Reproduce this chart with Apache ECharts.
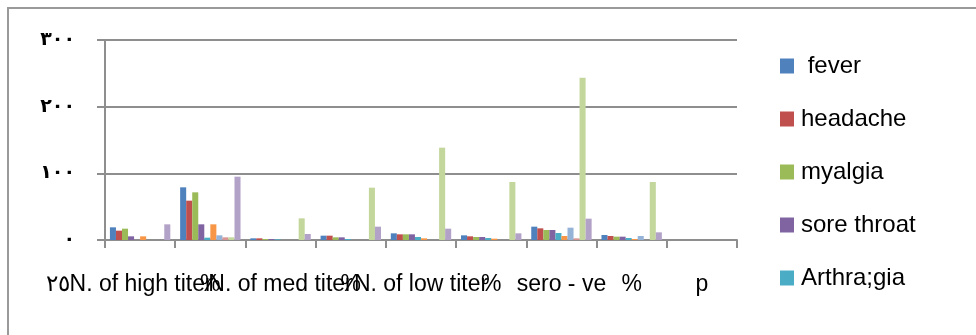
<!DOCTYPE html>
<html>
<head>
<meta charset="utf-8">
<script src="https://cdn.jsdelivr.net/npm/echarts@6/dist/echarts.min.js"></script>
<style>
  html, body { margin: 0; padding: 0; background: #fff; }
  #chart { width: 976px; height: 335px; }
</style>
</head>
<body>
<div id="chart"></div>
<script>
// category labels (they overlap in the original, kept as is)
const categories = ['٢٥N. of high titer', '%', 'N. of med titer', '%', 'N. of low titer', '%', 'sero - ve', '%', 'p'];
const yTicks = [0, 100, 200, 300];
const arabicDigits = ['٠', '١', '٢', '٣', '٤', '٥', '٦', '٧', '٨', '٩'];

// series values
const fever      = [19, 79, 2.5, 6.5, 10, 7, 20, 7.5, 0];
const headache   = [14, 59, 2.5, 6.5, 8.5, 5.5, 17.5, 6, 0];
const myalgia    = [17, 71.5, 1.5, 4, 8.5, 4.5, 15, 5, 0];
const soreThroat = [5.5, 23.5, 1.5, 4, 8.5, 4.5, 15, 5, 0];
const arthralgia = [0, 3.5, 1, 1.5, 4.5, 3, 10.5, 3, 0];
const series6    = [5.5, 23.5, 0, 0, 2.5, 2, 6, 1.5, 0];
const series7    = [0, 7, 0, 0, 0, 0, 18.5, 6, 0];
const series8    = [0, 4, 0, 0, 0, 0, 2.5, 0, 0];
const series9    = [0, 4, 32.5, 78.5, 138.5, 87, 243.5, 87, 0];
const series10   = [23.5, 95, 9, 20, 17, 10, 32, 11.5, 0];

const seriesNames = [' fever', 'headache', 'myalgia', 'sore throat', 'Arthra;gia',
  'Series6', 'Series7', 'Series8', 'Series9', 'Series10'];
const seriesData = [fever, headache, myalgia, soreThroat, arthralgia,
  series6, series7, series8, series9, series10];
// Excel 2007 palette
const colors = ['#4F81BD', '#C0504D', '#9BBB59', '#8064A2', '#4BACC6',
  '#F79646', '#95B3D7', '#D99694', '#C3D69B', '#B3A2C7'];

function toArabic(n) {
  return String(n).split('').map(d => arabicDigits[+d]).join('');
}

const chart = echarts.init(document.getElementById('chart'), null, { renderer: 'canvas' });

const axisGray = '#8e8e8e';

const option = {
  animation: false,
  color: colors,
  grid: { left: 105, right: 239, top: 40, bottom: 95, containLabel: false },
  // chart area border: only top and left edges are inside the picture
  graphic: [{
    type: 'polyline',
    shape: { points: [[8, 400], [8, 8], [1000, 8]] },
    style: { fill: 'none', stroke: '#9a9a9a', lineWidth: 2 },
    silent: true
  }],
  legend: {
    data: seriesNames.slice(0, 5),
    orient: 'vertical',
    left: 780,
    top: 54,
    padding: 0,
    itemWidth: 14,
    itemHeight: 15,
    itemGap: 29,
    icon: 'rect',
    textStyle: { fontFamily: 'Liberation Sans', fontSize: 24, color: '#000', padding: [0, 0, 0, 2] }
  },
  xAxis: {
    type: 'category',
    data: categories,
    boundaryGap: true,
    axisLine: { lineStyle: { color: axisGray, width: 2 } },
    axisTick: { show: true, length: 8, lineStyle: { color: axisGray, width: 2 } },
    axisLabel: {
      interval: 0,
      hideOverlap: false,
      margin: 33,
      fontFamily: 'Liberation Sans',
      fontSize: 23,
      color: '#000',
      formatter: (v, i) => i === 0 ? '{a|' + v + '}' : v,
      rich: { a: { fontFamily: 'Liberation Sans', fontSize: 23, color: '#000', padding: [0, 22, 0, 0] } }
    }
  },
  yAxis: {
    type: 'value',
    min: 0,
    max: 300,
    interval: 100,
    axisLine: { show: true, lineStyle: { color: axisGray, width: 2 } },
    axisTick: { show: true, length: 8, lineStyle: { color: axisGray, width: 2 } },
    splitLine: { lineStyle: { color: axisGray, width: 2 } },
    axisLabel: {
      margin: 30,
      fontFamily: 'DejaVu Sans',
      fontWeight: 'bold',
      fontSize: 19,
      color: '#000',
      verticalAlign: 'middle',
      padding: [0, 0, 8, 0],
      formatter: v => yTicks.includes(v) ? toArabic(v) : ''
    }
  },
  series: seriesData.map((d, i) => ({
    name: seriesNames[i],
    type: 'bar',
    data: d,
    barGap: '0%',
    barCategoryGap: '14%',
    itemStyle: { color: colors[i] }
  }))
};

chart.setOption(option);
</script>
</body>
</html>
